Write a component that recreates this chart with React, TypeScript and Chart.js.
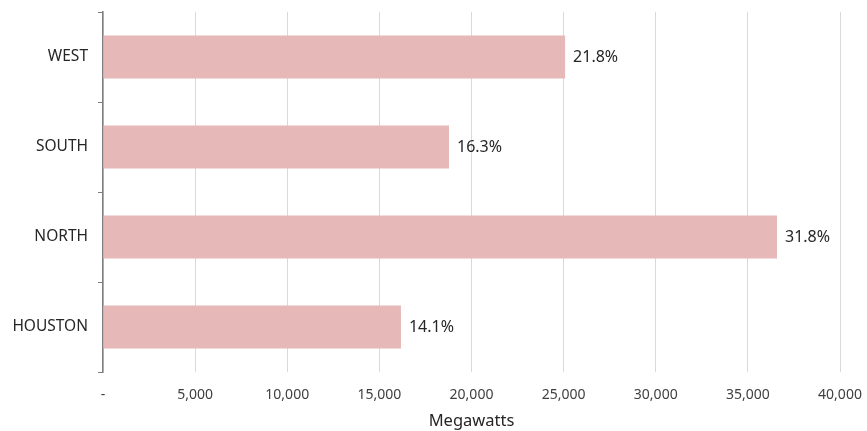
import React, { useEffect, useRef } from "react";
import { Chart, registerables } from "chart.js";

Chart.register(...registerables);

const regions: string[] = ["WEST", "SOUTH", "NORTH", "HOUSTON"];
const megawatts: number[] = [25080, 18780, 36580, 16170];
const shareLabels: string[] = ["21.8%", "16.3%", "31.8%", "14.1%"];

const FONT = "'Noto Sans', 'DejaVu Sans', sans-serif";
const BAR_COLOR = "#e6b8b7";

// Writes each region's share just past the end of its bar.
const shareLabelPlugin = {
  id: "shareLabels",
  afterDatasetsDraw(chart: Chart) {
    const { ctx } = chart;
    const meta = chart.getDatasetMeta(0);
    ctx.save();
    ctx.font = `16px ${FONT}`;
    ctx.fillStyle = "#262626";
    ctx.textAlign = "left";
    ctx.textBaseline = "middle";
    meta.data.forEach((bar: any, i: number) => {
      ctx.fillText(shareLabels[i], bar.x + 8, bar.y);
    });
    ctx.restore();
  },
};

export default function App() {
  const canvasRef = useRef<HTMLCanvasElement | null>(null);

  useEffect(() => {
    document.body.style.margin = "0";
    const canvas = canvasRef.current;
    if (!canvas) return;
    const chart = new Chart(canvas, {
      type: "bar",
      data: {
        labels: regions,
        datasets: [
          {
            data: megawatts,
            backgroundColor: BAR_COLOR,
            borderWidth: 0,
            categoryPercentage: 1,
            barPercentage: 0.48,
          },
        ],
      },
      plugins: [shareLabelPlugin],
      options: {
        indexAxis: "y",
        animation: false,
        responsive: false,
        maintainAspectRatio: false,
        layout: { padding: { left: 0, right: 27, top: 12, bottom: 0 } },
        plugins: {
          legend: { display: false },
          tooltip: { enabled: false },
        },
        scales: {
          x: {
            min: 0,
            max: 40000,
            ticks: {
              stepSize: 5000,
              padding: 15,
              color: "#404040",
              font: { family: FONT, size: 14 },
              callback: (v: any) =>
                Number(v) === 0 ? "-" : Number(v).toLocaleString("en-US"),
            },
            grid: { color: "#d9d9d9", drawTicks: false, lineWidth: 1 },
            border: { display: false },
            title: {
              display: true,
              text: "Megawatts",
              color: "#262626",
              font: { family: FONT, size: 16.5 },
              padding: { top: 4, bottom: 0 },
            },
            afterFit: (scale: any) => {
              scale.height = 59;
              scale.paddingLeft = 0;
              scale.paddingRight = 0;
            },
          },
          y: {
            ticks: {
              padding: 10,
              color: "#262626",
              font: { family: FONT, size: 15.5 },
            },
            grid: {
              offset: true,
              drawOnChartArea: false,
              drawTicks: true,
              tickLength: 5,
              color: "#7f7f7f",
            },
            border: { display: true, color: "#7f7f7f", width: 1.5 },
            afterFit: (scale: any) => {
              scale.width = 103;
              scale.paddingTop = 0;
              scale.paddingBottom = 0;
            },
          },
        },
      },
    });
    return () => chart.destroy();
  }, []);

  return (
    <div style={{ width: 867, height: 431, background: "#ffffff" }}>
      <canvas ref={canvasRef} width={867} height={431} />
    </div>
  );
}
